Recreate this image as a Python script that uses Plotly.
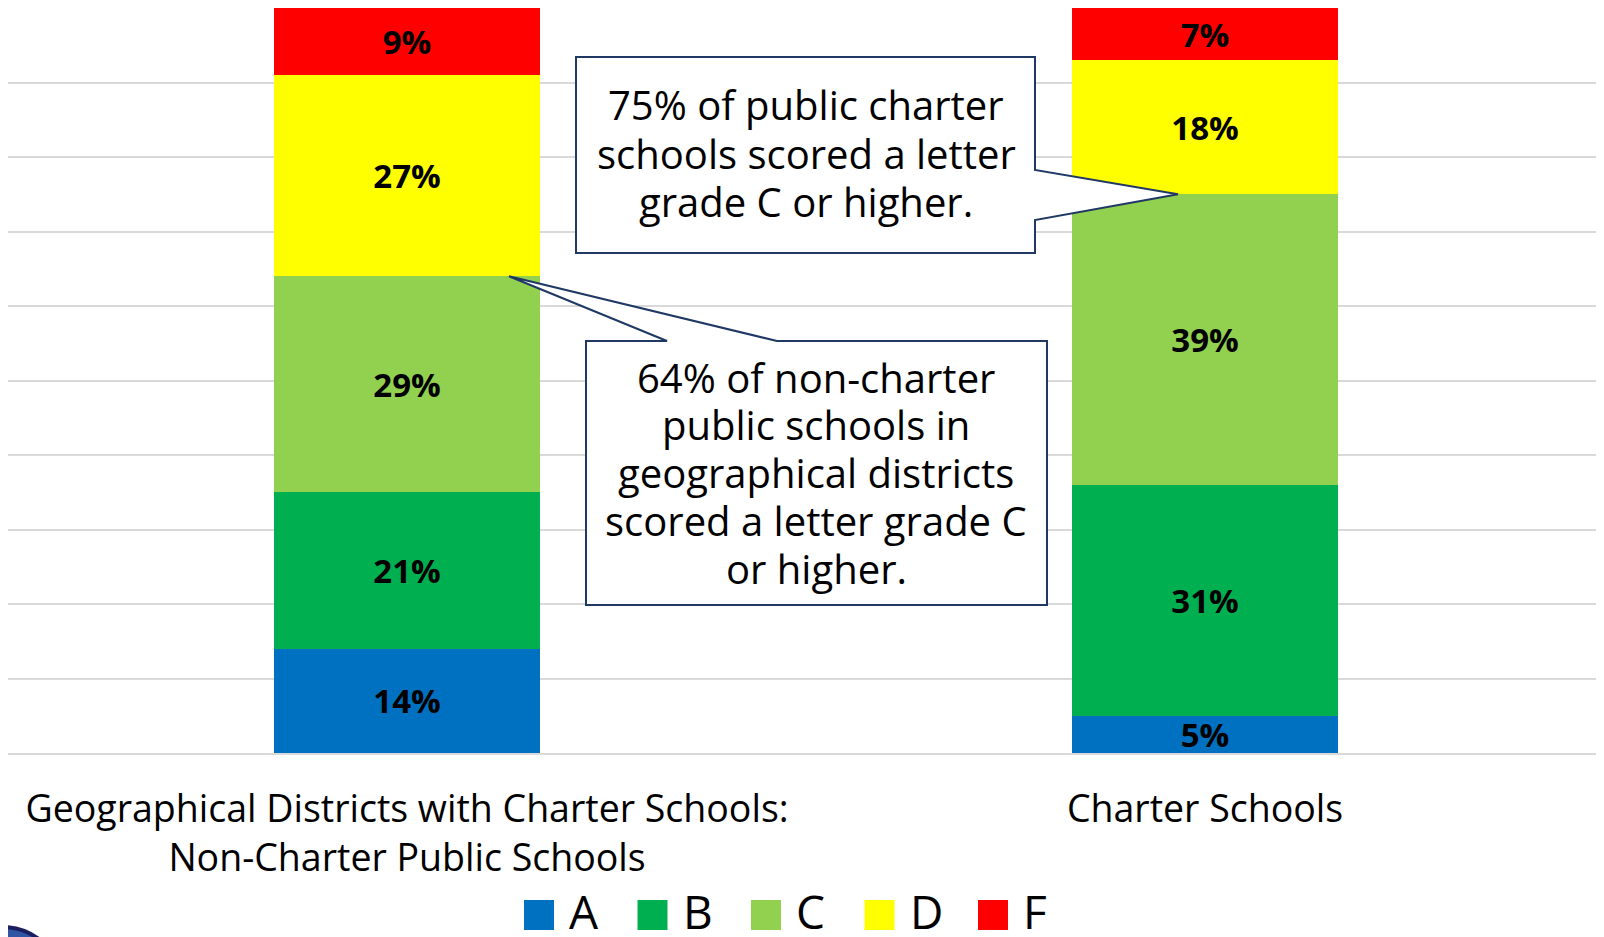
import plotly.graph_objects as go

# categories and grade shares (percent)
categories = [
    "Geographical Districts with Charter Schools:<br>Non-Charter Public Schools",
    "Charter Schools",
]
grades = ["A", "B", "C", "D", "F"]
grade_colors = ["#0070C0", "#00B050", "#92D050", "#FFFF00", "#FF0000"]
non_charter = [14, 21, 29, 27, 9]
charter = [5, 31, 39, 18, 7]

callout_charter = [
    "75% of public charter",
    "schools scored a letter",
    "grade C or higher.",
]
callout_non_charter = [
    "64% of non-charter",
    "public schools in",
    "geographical districts",
    "scored a letter grade C",
    "or higher.",
]

FONT = "Open Sans"
OFFSET = 8  # the page body keeps its default 8px margin
W, H = 1596, 929
M_L, M_R, M_T, M_B = 0, 0, 0, 184
PLOT_W = W - M_L - M_R
PLOT_H = H - M_T - M_B


def px_x(x):
    # x given in window pixels
    return (x - OFFSET - M_L) / PLOT_W


def px_y(y):
    return (H - M_B - (y - OFFSET)) / PLOT_H


def path_from(points):
    parts = [f"{'M' if i == 0 else 'L'}{x:.5f},{y:.5f}" for i, (x, y) in enumerate(points)]
    return " ".join(parts) + " Z"


fig = go.Figure()
for i, grade in enumerate(grades):
    fig.add_trace(
        go.Bar(
            name=grade,
            x=categories,
            y=[non_charter[i], charter[i]],
            marker=dict(color=grade_colors[i], line=dict(width=0)),
            texttemplate="<b>%{y}%</b>",
            textposition="inside",
            insidetextanchor="middle",
            textangle=0,
            textfont=dict(family=FONT, size=33, color="black"),
            showlegend=False,
            hoverinfo="skip",
        )
    )

# callout boxes, tips point at the C/D boundary of each bar
tip_charter = sum(charter[:3]) / 100
tip_non = sum(non_charter[:3]) / 100
box_line = dict(color="#1F3864", width=2)

shapes = [
    dict(
        type="path",
        xref="paper",
        yref="paper",
        path=path_from([
            (px_x(576), px_y(57)),
            (px_x(1035), px_y(57)),
            (px_x(1035), px_y(170)),
            (px_x(1178), tip_charter),
            (px_x(1035), px_y(220)),
            (px_x(1035), px_y(253)),
            (px_x(576), px_y(253)),
        ]),
        fillcolor="white",
        line=box_line,
        layer="above",
    ),
    dict(
        type="path",
        xref="paper",
        yref="paper",
        path=path_from([
            (px_x(586), px_y(341)),
            (px_x(667), px_y(341)),
            (px_x(509), tip_non),
            (px_x(777), px_y(341)),
            (px_x(1047), px_y(341)),
            (px_x(1047), px_y(605)),
            (px_x(586), px_y(605)),
        ]),
        fillcolor="white",
        line=box_line,
        layer="above",
    ),
    # corner of a logo peeking in at bottom left
    dict(
        type="circle",
        xref="paper",
        yref="paper",
        x0=px_x(-60),
        x1=px_x(64),
        y0=px_y(927),
        y1=px_y(1051),
        fillcolor="#2F55A4",
        line=dict(color="#1B1F5E", width=4),
    ),
]

annotations = []
callout_font = dict(family=FONT, size=40, color="black")
for j, line in enumerate(callout_charter):
    annotations.append(dict(
        text=line, x=px_x(806), y=px_y(105 + j * 48), xref="paper", yref="paper",
        showarrow=False, xanchor="center", yanchor="middle", font=callout_font,
    ))
for j, line in enumerate(callout_non_charter):
    annotations.append(dict(
        text=line, x=px_x(816), y=px_y(377 + j * 47.8), xref="paper", yref="paper",
        showarrow=False, xanchor="center", yanchor="middle", font=callout_font,
    ))

# hand-drawn legend with large squares
for i, grade in enumerate(grades):
    left = 524 + i * 113.5
    shapes.append(
        dict(
            type="rect", xref="paper", yref="paper",
            x0=px_x(left), x1=px_x(left + 30), y0=px_y(930), y1=px_y(900),
            fillcolor=grade_colors[i], line=dict(width=0),
        )
    )
    annotations.append(
        dict(
            text=grade, x=px_x(left + 43), y=px_y(911), xref="paper", yref="paper",
            showarrow=False, xanchor="left", yanchor="middle",
            font=dict(family=FONT, size=46, color="black"),
        )
    )

fig.update_layout(
    barmode="stack",
    bargap=0.667,
    width=W,
    height=H,
    margin=dict(l=M_L, r=M_R, t=M_T, b=M_B),
    plot_bgcolor="white",
    paper_bgcolor="white",
    font=dict(family=FONT, color="black"),
    uniformtext=dict(minsize=33, mode="show"),
    shapes=shapes,
    annotations=annotations,
    showlegend=False,
)
fig.update_xaxes(
    showline=True,
    linecolor="#D9D9D9",
    linewidth=2,
    ticks="",
    ticklabelstandoff=22,
    tickfont=dict(family=FONT, size=37.5, color="black"),
    fixedrange=True,
)
fig.update_yaxes(
    range=[0, 100],
    dtick=10,
    showticklabels=False,
    gridcolor="#D9D9D9",
    gridwidth=1.5,
    zeroline=False,
    fixedrange=True,
)

fig.write_html("out.html")
